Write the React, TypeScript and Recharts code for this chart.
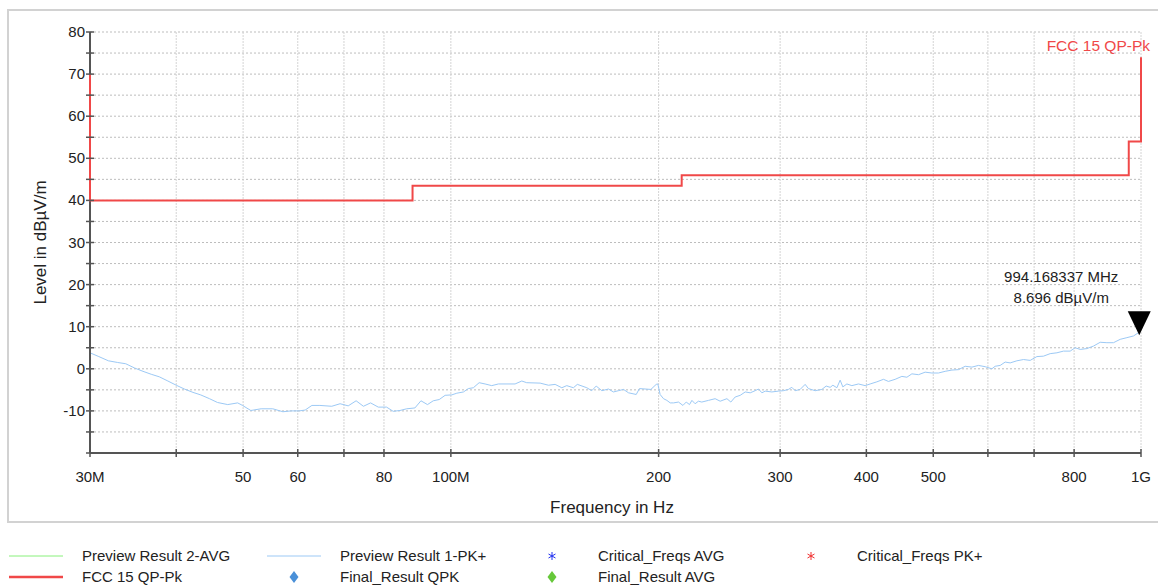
import { CartesianGrid, ComposedChart, Line, ReferenceDot, XAxis, YAxis } from 'recharts';

const FONT = '"Liberation Sans", Arial, sans-serif';

// Preview Result 1-PK+ trace (MHz / dBµV/m)
const previewFreq = [
  30.0, 30.9, 31.9, 32.9, 33.8, 34.8, 35.8, 36.8, 37.8, 38.9, 40.0, 41.1, 42.3, 43.4, 44.7, 45.9,
  47.5, 49.1, 49.9, 51.3, 53.1, 55.2, 57.1, 58.7, 60.3, 61.5, 62.9, 64.6, 67.2, 69.1, 71.0, 72.9,
  74.7, 76.5, 78.5, 80.7, 82.5, 84.4, 86.3, 88.7, 90.5, 92.5, 94.3, 96.2, 98.1, 100.3, 102.0, 104.3,
  106.0, 107.8, 109.9, 112.1, 114.6, 117.2, 123.9, 126.7, 128.8, 134.7, 138.5, 141.6, 144.8, 147.2,
  150.5, 152.5, 157.4, 160.0, 162.4, 165.5, 169.2, 172.0, 174.9, 177.9, 180.9, 185.6, 187.6, 194.9,
  198.4, 199.5, 201.0, 203.3, 205.6, 207.9, 210.2, 213.7, 216.9, 219.3, 221.7, 223.5, 225.9, 228.4,
  231.0, 236.2, 241.5, 245.6, 251.2, 254.5, 258.2, 262.6, 267.0, 271.5, 276.0, 279.1, 282.3, 285.4,
  291.8, 298.3, 303.3, 308.4, 311.9, 315.4, 320.7, 326.1, 329.7, 337.2, 344.8, 349.8, 354.5, 357.7,
  362.5, 366.5, 369.8, 374.8, 381.1, 389.6, 398.4, 405.1, 414.2, 423.5, 430.6, 440.3, 450.3, 457.9,
  465.6, 476.0, 486.7, 497.7, 508.8, 520.3, 532.1, 543.9, 556.2, 568.8, 581.4, 594.6, 608.0, 614.7,
  625.1, 635.6, 646.3, 660.9, 675.6, 690.9, 706.5, 722.2, 738.6, 755.3, 772.1, 789.5, 802.9, 816.4,
  834.8, 853.4, 872.7, 892.4, 912.3, 932.9, 954.0, 975.3, 994.2,
];
const previewLevel = [
  3.8, 2.9, 1.9, 1.5, 1.2, 0.2, -0.6, -1.3, -1.9, -2.9, -3.9, -4.8, -5.6, -6.2, -7.1, -8.0,
  -8.5, -8.1, -8.7, -9.9, -9.5, -9.5, -10.2, -10.0, -10.0, -9.8, -8.7, -8.7, -8.9, -8.3, -8.8, -7.6,
  -8.9, -8.1, -9.1, -9.1, -10.1, -9.9, -9.5, -9.3, -7.6, -8.5, -7.6, -7.3, -6.3, -6.2, -5.8, -5.5,
  -4.7, -4.5, -3.3, -3.6, -4.0, -3.6, -3.6, -2.9, -3.3, -3.4, -3.9, -3.7, -4.5, -4.0,
  -4.5, -3.7, -4.5, -5.2, -4.1, -5.2, -4.8, -5.5, -5.2, -4.9, -5.7, -6.1, -4.7, -4.9,
  -3.7, -3.6, -6.1, -7.1, -7.5, -8.1, -8.1, -7.9, -8.7, -7.9, -8.5, -7.5, -8.3, -7.7,
  -7.9, -7.5, -7.1, -7.7, -7.1, -7.9, -6.7, -6.3, -5.5, -5.7, -5.2, -4.8, -5.7, -5.3,
  -5.5, -5.3, -5.2, -4.9, -4.4, -5.2, -4.9, -3.7, -4.7, -5.2, -4.9, -4.1, -4.4, -3.9,
  -4.5, -2.7, -4.3, -3.6, -4.0, -3.6, -4.0, -3.6, -3.1, -2.5, -3.0, -2.5, -1.8, -2.0,
  -1.2, -1.4, -0.8, -1.0, -1.0, -0.6, -0.3, -0.2, 0.6, 0.4, 0.8, 0.5, 0.0, 0.6,
  0.8, 1.6, 1.4, 1.9, 2.2, 2.0, 2.9, 3.0, 3.6, 3.8, 4.2, 4.2, 5.0, 4.6,
  4.8, 5.4, 6.3, 6.2, 6.2, 7.0, 7.4, 7.8, 8.7,
];

// FCC 15 QP-Pk limit line
const limitFreq = [30, 30, 88, 88, 216, 216, 960, 960, 1000, 1000];
const limitLevel = [70, 40, 40, 43.5, 43.5, 46, 46, 54, 54, 74];
const limitName = 'FCC 15 QP-Pk';

const xTicks = [30, 40, 50, 60, 70, 80, 100, 200, 300, 400, 500, 600, 700, 800, 1000];
const xTickLabels = ['30M', '', '50', '60', '', '80', '100M', '200', '300', '400', '500', '', '', '800', '1G'];
const yTicks = [-20, -15, -10, -5, 0, 5, 10, 15, 20, 25, 30, 35, 40, 45, 50, 55, 60, 65, 70, 75, 80];

const peakFreq = 994.168337;
const peakLevel = 8.696;
const peakLabels = ['994.168337 MHz', '8.696 dBµV/m'];

const legendNames = [
  'Preview Result 2-AVG', 'Preview Result 1-PK+', 'Critical_Freqs AVG', 'Critical_Freqs PK+',
  'FCC 15 QP-Pk', 'Final_Result QPK', 'Final_Result AVG',
];
const legendColors = ['#88f07a', '#9cc9f5', '#2030f0', '#f03030', '#f04848', '#4a90d8', '#66c83a'];
const legendSymbols = ['line', 'line', 'star', 'star', 'thick', 'diamond', 'diamond'];

const previewData = previewFreq.map((f, i) => ({ f, v: previewLevel[i] }));
const limitData = limitFreq.map((f, i) => ({ f, v: limitLevel[i] }));

const XTick = (props: any) => {
  const { x, y, payload } = props;
  const i = xTicks.indexOf(payload.value);
  return (
    <g>
      <line x1={x} x2={x} y1={y - 4} y2={y + 4} stroke="#555" strokeWidth={1.5} />
      <text x={x} y={y + 29} textAnchor="middle" fontSize={15} fill="#222" fontFamily={FONT}>
        {xTickLabels[i]}
      </text>
    </g>
  );
};

const YTick = (props: any) => {
  const { x, y, payload } = props;
  const v = payload.value;
  const show = v % 10 === 0 && v > -20;
  return (
    <g>
      <line x1={x - 4} x2={x + 4} y1={y} y2={y} stroke="#555" strokeWidth={1.5} />
      {show && (
        <text x={x - 5} y={y + 5} textAnchor="end" fontSize={15} fill="#222" fontFamily={FONT}>
          {v}
        </text>
      )}
    </g>
  );
};

const PeakMarker = (props: any) => {
  const { cx, cy } = props;
  return (
    <g>
      <path d={`M${cx - 11.5},${cy - 21} L${cx + 11.5},${cy - 21} L${cx},${cy + 3} Z`} fill="#000" />
      <text x={cx - 78} y={cy - 50} textAnchor="middle" fontSize={15} fill="#222" fontFamily={FONT}>
        {peakLabels[0]}
      </text>
      <text x={cx - 78} y={cy - 29} textAnchor="middle" fontSize={15} fill="#222" fontFamily={FONT}>
        {peakLabels[1]}
      </text>
    </g>
  );
};

const LimitLabel = (props: any) => {
  const { cx, cy } = props;
  return (
    <text x={cx + 9} y={cy - 6} textAnchor="end" fontSize={15.5} fill="#f04848" fontFamily={FONT}>
      {limitName}
    </text>
  );
};

function LegendSymbol({ kind, color, cx, cy }: { kind: string; color: string; cx: number; cy: number }) {
  if (kind === 'line' || kind === 'thick') {
    return <line x1={cx - 27} x2={cx + 27} y1={cy} y2={cy} stroke={color} strokeWidth={kind === 'thick' ? 2.5 : 1} />;
  }
  if (kind === 'diamond') {
    return <path d={`M${cx},${cy - 6} L${cx + 4.5},${cy} L${cx},${cy + 6} L${cx - 4.5},${cy} Z`} fill={color} />;
  }
  return (
    <g stroke={color} strokeWidth={1}>
      <line x1={cx} x2={cx} y1={cy - 4} y2={cy + 4} />
      <line x1={cx - 3.5} x2={cx + 3.5} y1={cy - 2} y2={cy + 2} />
      <line x1={cx - 3.5} x2={cx + 3.5} y1={cy + 2} y2={cy - 2} />
    </g>
  );
}

function ChartLegend() {
  const colStart = [8, 266, 524, 783];
  const rowY = [556, 577];
  return (
    <svg width={1158} height={587} style={{ position: 'absolute', left: 0, top: 0, pointerEvents: 'none' }}>
      {legendNames.map((name, i) => {
        const row = i < 4 ? 0 : 1;
        const col = i < 4 ? i : i - 4;
        const x0 = colStart[col];
        const y = rowY[row];
        return (
          <g key={name}>
            <LegendSymbol kind={legendSymbols[i]} color={legendColors[i]} cx={x0 + 28} cy={y} />
            <text x={x0 + 74} y={y + 5} fontSize={15} fill="#222" fontFamily={FONT}>
              {name}
            </text>
          </g>
        );
      })}
    </svg>
  );
}

export default function App() {
  return (
    <div style={{ position: 'absolute', left: 0, top: 0, width: 1158, height: 587, background: '#fff', overflow: 'hidden', fontFamily: FONT }}>
      <div
        style={{
          position: 'absolute', left: 7, top: 9, width: 1170, height: 510,
          borderTop: '2px solid #d2d2d2', borderLeft: '2px solid #d2d2d2', borderBottom: '2px solid #d2d2d2',
        }}
      />
      <div style={{ position: 'absolute', left: 0, top: 0 }}>
        <ComposedChart width={1158} height={520} margin={{ top: 32, right: 17, bottom: 37, left: 30 }}>
          <CartesianGrid horizontal vertical={false} stroke="#bdbdbd" strokeDasharray="2 2" />
          <CartesianGrid horizontal={false} vertical stroke="#d4d4d4" strokeDasharray="2 1" />
          <XAxis
            dataKey="f"
            type="number"
            scale="log"
            domain={[30, 1000]}
            ticks={xTicks}
            interval={0}
            height={30}
            tickSize={0}
            tickMargin={0}
            tick={<XTick />}
            stroke="#555"
            strokeWidth={2}
          />
          <YAxis
            dataKey="v"
            type="number"
            domain={[-20, 80]}
            ticks={yTicks}
            interval={0}
            width={60}
            tickSize={0}
            tickMargin={0}
            tick={<YTick />}
            stroke="#555"
            strokeWidth={2}
            label={{
              value: 'Level in dBµV/m', angle: -90, position: 'insideLeft', offset: 10,
              style: { fontSize: 17, fill: '#222', fontFamily: FONT, textAnchor: 'middle' },
            }}
          />
          <Line
            data={previewData}
            dataKey="v"
            type="linear"
            stroke="#9cc9f5"
            strokeWidth={1}
            dot={false}
            isAnimationActive={false}
          />
          <Line
            data={limitData}
            dataKey="v"
            type="linear"
            stroke="#f04848"
            strokeWidth={2}
            dot={false}
            isAnimationActive={false}
            {...({ zIndex: 1000 } as any)}
          />
          <ReferenceDot x={1000} y={74} r={0} shape={<LimitLabel />} />
          <ReferenceDot x={peakFreq} y={peakLevel} r={0} shape={<PeakMarker />} />
        </ComposedChart>
      </div>
      <div
        style={{
          position: 'absolute', left: 0, width: 1224, top: 498, textAlign: 'center',
          fontSize: 17, color: '#222', fontFamily: FONT,
        }}
      >
        Frequency in Hz
      </div>
      <ChartLegend />
    </div>
  );
}
